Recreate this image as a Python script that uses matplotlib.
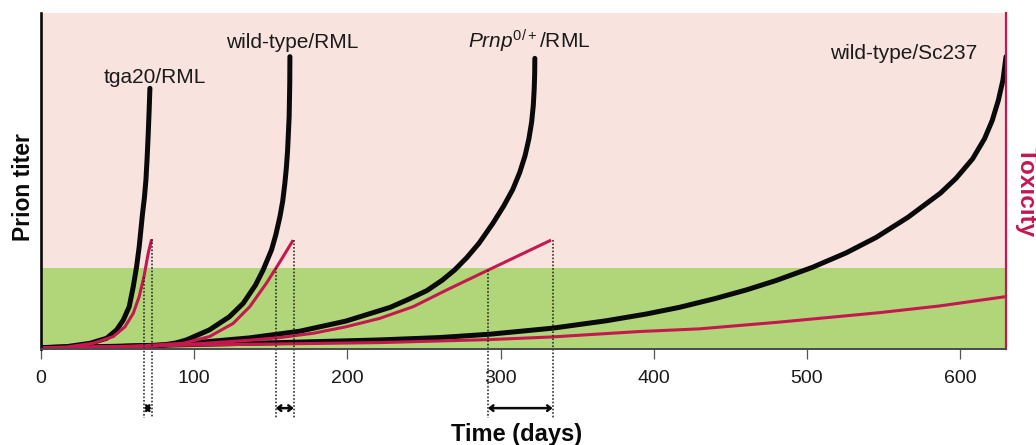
import matplotlib
matplotlib.use("Agg")
import matplotlib.pyplot as plt

plt.rcParams['font.family'] = ['Liberation Sans', 'DejaVu Sans']
plt.rcParams['mathtext.fontset'] = 'custom'
plt.rcParams['mathtext.rm'] = 'Liberation Sans'
plt.rcParams['mathtext.it'] = 'Liberation Sans:italic'
plt.rcParams['mathtext.bf'] = 'Liberation Sans:bold'

# ---------------- data (days, relative level 0-100) ----------------
tga20_titer_days = [0, 16.8, 32, 42.9, 49.4, 53.7, 57.6, 60.2, 62.4, 64.1, 66.3, 67.5, 68.5, 69.3,
                    70.0, 70.6, 71.1]
tga20_titer_vals = [0.4, 0.7, 1.7, 3.2, 5.7, 8.6, 12.6, 18.5, 24.5, 30.4, 40.4, 45.0, 50.3, 57.0,
                    64.0, 71.0, 77.6]
tga20_tox_days = [0, 16.8, 34.1, 47.2, 54.8, 60.2, 64.1, 67.2, 70.0, 72.2]
tga20_tox_vals = [0.3, 0.6, 1.7, 3.7, 6.6, 10.6, 15.6, 21.5, 28.5, 32.6]

wtrml_titer_days = [0, 50, 80, 88, 95, 110, 123, 132, 140, 145, 150.5, 153.3, 156, 157.8, 159.2,
                    160.2, 161, 162, 162.4, 162.5]
wtrml_titer_vals = [0.4, 0.7, 1.2, 1.8, 2.7, 5.7, 9.6, 13.6, 19.0, 23.5, 29.5, 34.0, 39.4, 44.0,
                    49.3, 54.0, 59.2, 69.1, 79.1, 87.0]
wtrml_tox_days = [0, 60, 92.8, 110, 125.4, 136.3, 147.2, 153.3, 158.1, 164.6]
wtrml_tox_vals = [0.3, 0.8, 1.7, 3.7, 7.6, 12.6, 19.6, 24.0, 27.5, 32.4]

prnp_titer_days = [0, 71, 104, 136, 169, 199, 228, 240, 252, 262, 270, 278, 286, 295, 302, 308,
                   312.5, 316, 318.5, 320.3, 321.4, 322, 322.3, 322.4]
prnp_titer_vals = [0.4, 0.9, 2.0, 3.3, 5.3, 8.3, 12.4, 14.8, 17.4, 20.5, 23.5, 27.2, 31.5, 37.4,
                   42.5, 47.5, 52.5, 57.5, 62.5, 67.5, 72.5, 77.5, 82.0, 86.5]
prnp_tox_days = [0, 71, 104, 136, 156, 178, 199, 221, 243, 265, 292, 333]
prnp_tox_vals = [0.3, 0.8, 1.6, 2.6, 3.4, 4.7, 6.6, 9.1, 12.6, 17.6, 23.5, 32.4]

sc237_titer_days = [0, 60, 104, 156, 221, 260, 293, 334, 369, 395, 416.8, 440, 460.6, 480, 503.6,
                    525.6, 545.2, 566, 587.2, 597.4, 608.2, 616, 621, 625, 628, 630]
sc237_titer_vals = [0.4, 0.9, 1.4, 1.9, 2.7, 3.4, 4.4, 6.2, 8.4, 10.4, 12.4, 15.0, 17.6, 20.4, 24.3,
                    28.6, 33.2, 39.2, 46.4, 50.8, 56.6, 62.6, 68.0, 74.0, 80.0, 87.0]
sc237_tox_days = [0, 103.7, 221.1, 292.9, 334, 390.7, 430, 482, 547, 586.4, 630]
sc237_tox_vals = [0.3, 1.2, 1.9, 2.8, 3.6, 5.2, 6.0, 8.0, 10.8, 12.8, 15.6]

threshold = 24.1
onset_days = [67.2, 153.3, 291.8]
onset_tops = [21.5, 24.0, 23.5]
end_days = [72.2, 165.0, 334.0]
end_tops = [32.6, 32.4, 32.4]

curve_labels = ['tga20/RML', 'wild-type/RML', r'$\mathit{Prnp}^{0/+}$/RML', 'wild-type/Sc237']
label_x = [74.4, 163.7, 319.0, 611.0]
label_y = [79.1, 89.5, 89.5, 86.2]
label_ha = ['center', 'center', 'center', 'right']

xticks = [0, 100, 200, 300, 400, 500, 600]

# ---------------- styles ----------------
PINK = '#f9e3df'
GREEN = '#b1d679'
CRIMSON = '#c4184f'
BLACK = '#0a0a0a'

fig = plt.figure(figsize=(10.36, 4.45), dpi=100)
ax = fig.add_axes([41 / 1036, 1 - 349 / 445, (1006 - 41) / 1036, (349 - 13) / 445])
ax.set_xlim(0, 630)
ax.set_ylim(0, 100)

ax.axhspan(0, threshold, color=GREEN, zorder=0, lw=0)
ax.axhspan(threshold, 100, color=PINK, zorder=0, lw=0)

titers = [(tga20_titer_days, tga20_titer_vals), (wtrml_titer_days, wtrml_titer_vals),
          (prnp_titer_days, prnp_titer_vals), (sc237_titer_days, sc237_titer_vals)]
toxs = [(tga20_tox_days, tga20_tox_vals), (wtrml_tox_days, wtrml_tox_vals),
        (prnp_tox_days, prnp_tox_vals), (sc237_tox_days, sc237_tox_vals)]

for d, v in titers:
    ax.plot(d, v, color=BLACK, lw=3.6, solid_capstyle='round', solid_joinstyle='round', zorder=3)
for d, v in toxs:
    ax.plot(d, v, color=CRIMSON, lw=2.2, solid_capstyle='butt', solid_joinstyle='round', zorder=4)

arrow_y = -17.6
line_bottom = -20.5
for xd, top in zip(onset_days + end_days, onset_tops + end_tops):
    ax.plot([xd, xd], [top, line_bottom], color='#222222', lw=1.1, ls=(0, (1.1, 1.2)),
            clip_on=False, zorder=5)
for a, b in zip(onset_days, end_days):
    ax.annotate('', xy=(b, arrow_y), xytext=(a, arrow_y), xycoords='data',
                annotation_clip=False,
                arrowprops=dict(arrowstyle='<->,head_length=0.25,head_width=0.2',
                                color=BLACK, lw=1.8, shrinkA=0, shrinkB=0))

for t, x, y, ha in zip(curve_labels, label_x, label_y, label_ha):
    ax.text(x, y, t, ha=ha, va='baseline', fontsize=15, color='#1a1a1a', zorder=6)

# spines and ticks
ax.spines['top'].set_visible(False)
ax.spines['left'].set_color(BLACK)
ax.spines['left'].set_linewidth(1.9)
ax.spines['right'].set_color(CRIMSON)
ax.spines['right'].set_linewidth(1.6)
ax.spines['bottom'].set_color('#4a4a4a')
ax.spines['bottom'].set_linewidth(1.4)
for s in ax.spines.values():
    s.set_zorder(7)
ax.set_yticks([])
ax.set_xticks(xticks)
ax.set_xticklabels([str(t) for t in xticks])
ax.tick_params(axis='x', direction='out', length=7.5, width=0.9, color='#555555',
               labelsize=14, pad=7.5, labelcolor='#1a1a1a')

fig.text(517 / 1036, 1 - 434 / 445, 'Time (days)', ha='center', va='center',
         fontsize=17, fontweight='bold', color=BLACK)
fig.text(24 / 1036, 1 - 187 / 445, 'Prion titer', ha='center', va='center', rotation=90,
         fontsize=16.5, fontweight='bold', color=BLACK)
fig.text(1026 / 1036, 1 - 192 / 445, 'Toxicity', ha='center', va='center', rotation=270,
         fontsize=17.5, fontweight='bold', color=CRIMSON)

fig.savefig('out.png', dpi=100)
